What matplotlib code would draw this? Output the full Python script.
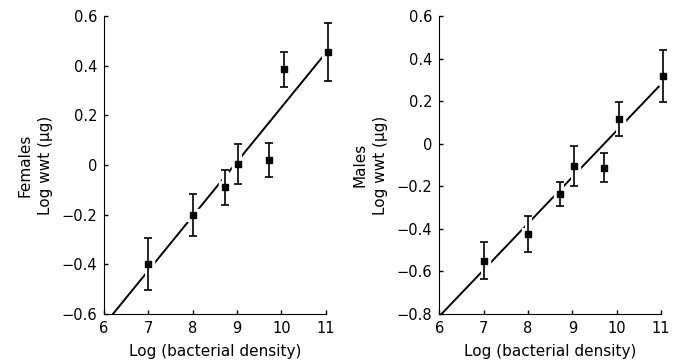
import matplotlib.pyplot as plt
import numpy as np

plt.rcParams['font.family'] = ['DejaVu Sans']
plt.rcParams['font.size'] = 10

# data
x_dens = [7.0, 8.0, 8.72, 9.03, 9.72, 10.05, 11.05]

fem_y = [-0.40, -0.20, -0.09, 0.005, 0.02, 0.385, 0.455]
fem_err = [0.105, 0.085, 0.07, 0.08, 0.068, 0.07, 0.118]
fem_fit = (0.219, -1.958)
fem_fit_x = [6.2, 10.95]

mal_y = [-0.55, -0.425, -0.237, -0.105, -0.112, 0.117, 0.317]
mal_err = [0.087, 0.085, 0.055, 0.095, 0.066, 0.08, 0.122]
mal_fit = (0.218, -2.119)
mal_fit_x = [6.05, 10.95]

x_ticks = [6, 7, 8, 9, 10, 11]
fem_yticks = [-0.6, -0.4, -0.2, 0, 0.2, 0.4, 0.6]
mal_yticks = [-0.8, -0.6, -0.4, -0.2, 0, 0.2, 0.4, 0.6]


def fmt(v):
    if abs(v) < 1e-9:
        return '0'
    return ('%.1f' % v).replace('-', '\u2212')


def panel(ax, y, err, fit, fitx, yticks, label):
    xx = np.array(fitx)
    ax.plot(xx, fit[0] * xx + fit[1], color='black', lw=1.4, zorder=1)
    # white halo to break the line near the points
    ax.errorbar(x_dens, y, yerr=err, fmt='s', ms=9, color='white', mec='white',
                elinewidth=5, capsize=0, zorder=2, clip_on=False)
    ax.errorbar(x_dens, y, yerr=err, fmt='s', ms=5, color='black',
                elinewidth=1.2, capsize=3, capthick=1.2, zorder=3, clip_on=False)
    ax.set_xlim(6, 11)
    ax.set_ylim(yticks[0], yticks[-1])
    ax.set_xticks(x_ticks)
    ax.set_yticks(yticks)
    ax.set_yticklabels([fmt(v) for v in yticks])
    ax.spines['top'].set_visible(False)
    ax.spines['right'].set_visible(False)
    ax.tick_params(direction='in', length=3, width=1, labelsize=10.5, pad=5)
    ax.set_xlabel('Log (bacterial density)', fontsize=11, labelpad=6)
    ax.set_ylabel(label + '\nLog wwt (\u03bcg)', fontsize=11,
                  linespacing=1.5, labelpad=6)


fig = plt.figure(figsize=(6.8, 3.63), dpi=100)
ax1 = fig.add_axes([0.153, 0.135, 0.326, 0.821])
ax2 = fig.add_axes([0.646, 0.135, 0.326, 0.821])

panel(ax1, fem_y, fem_err, fem_fit, fem_fit_x, fem_yticks, 'Females')
panel(ax2, mal_y, mal_err, mal_fit, mal_fit_x, mal_yticks, 'Males')

fig.savefig('out.png', dpi=100)
